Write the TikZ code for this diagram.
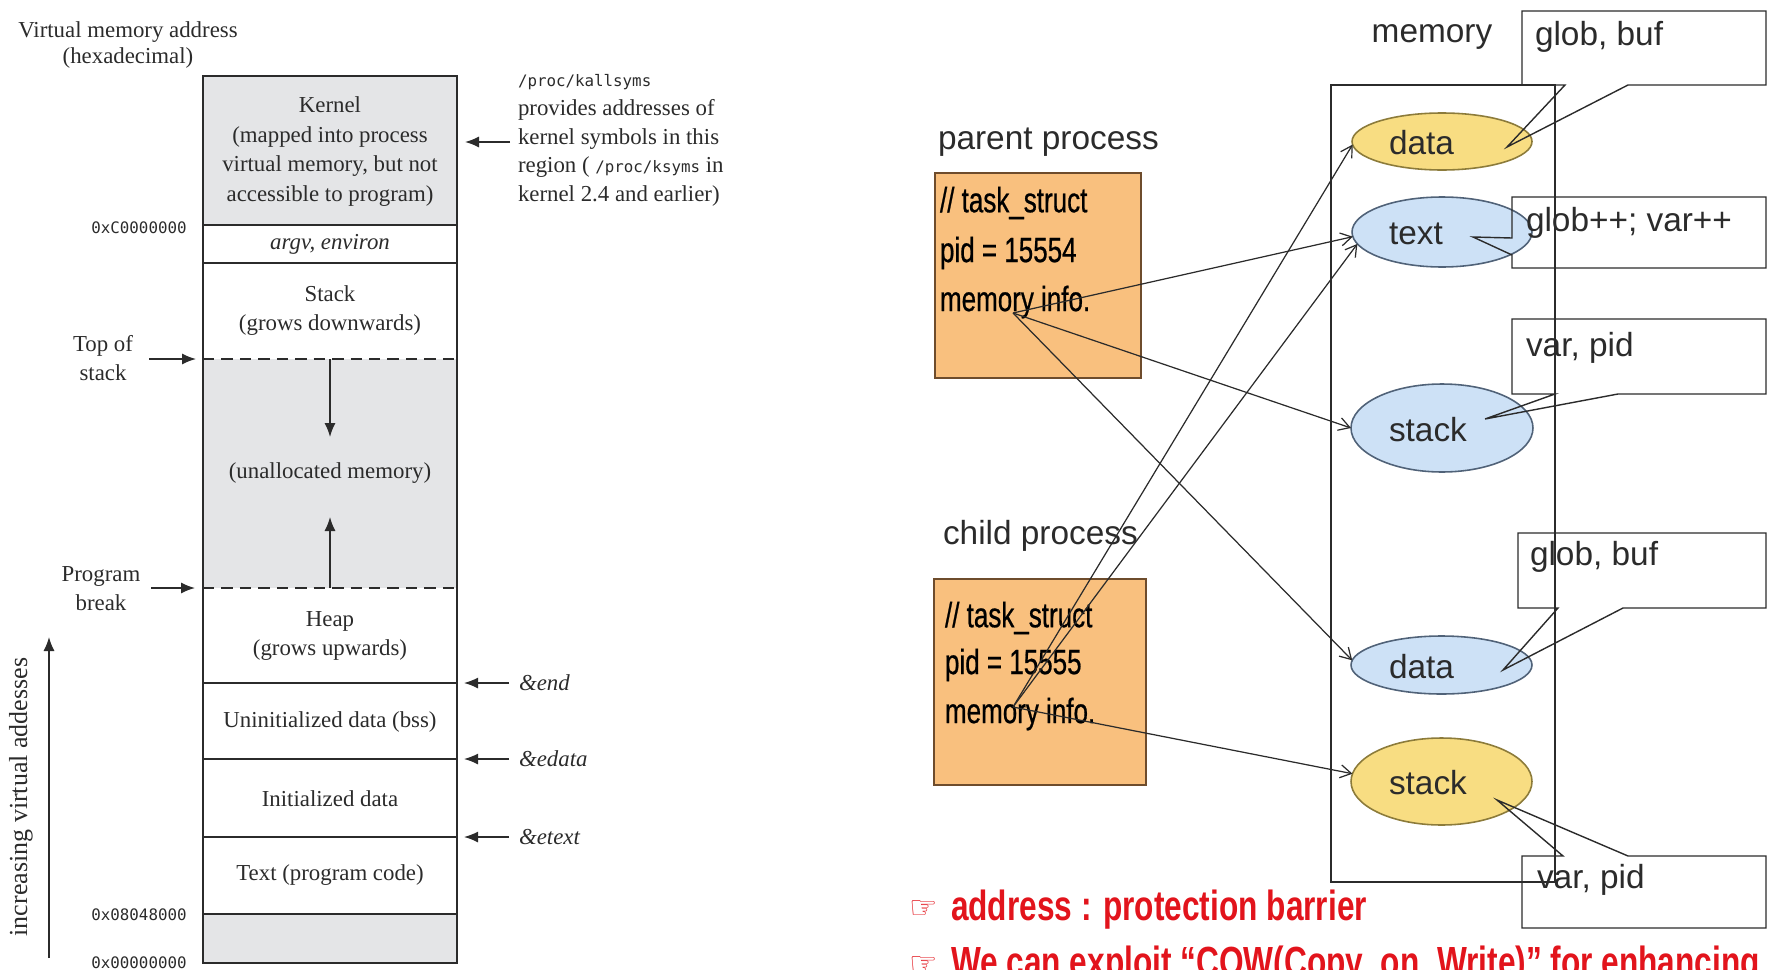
\documentclass[tikz,border=0pt]{standalone}
\usepackage{fontspec}
\setmainfont{Liberation Serif}
\newfontfamily\labelsans{Liberation Sans}
\newfontfamily\tasksans[FakeStretch=0.74,FakeBold=0.6]{Liberation Sans}
\newfontfamily\alertsans[FakeStretch=0.75]{Liberation Sans}
\newfontfamily\symbolfont{DejaVu Sans}
\newfontfamily\codemono{DejaVu Sans Mono}
\usetikzlibrary{arrows.meta,shapes.geometric,calc}

\definecolor{ink}{HTML}{2B2B2B}
\definecolor{regiongray}{HTML}{E4E5E7}
\definecolor{taskfill}{HTML}{F9C07E}
\definecolor{taskline}{HTML}{6E4C2C}
\definecolor{yellowfill}{HTML}{F8DD82}
\definecolor{yellowline}{HTML}{8C7B3A}
\definecolor{bluefill}{HTML}{CDE1F6}
\definecolor{blueline}{HTML}{506278}
\definecolor{alertred}{HTML}{E2141C}

\begin{document}
\begin{tikzpicture}[x=0.02cm,y=-0.02cm,
  every node/.style={inner sep=0pt, outer sep=0pt},
  serif/.style={font=\fontsize{13}{16.9}\selectfont, text=ink, align=center},
  hexlabel/.style={font=\codemono\fontsize{9}{11}\selectfont, text=ink},
  segline/.style={draw=ink, line width=0.8pt},
  dashsep/.style={draw=ink, line width=0.8pt, dash pattern=on 6.5pt off 4pt},
  leftptr/.style={draw=ink, line width=0.8pt, -{Latex[length=2.8mm,width=2.2mm]}},
  memlabel/.style={font=\labelsans\fontsize{19}{22}\selectfont, text=ink},
  procbox/.style={draw=taskline, fill=taskfill, line width=1pt},
  segyellow/.style={ellipse, draw=yellowline, fill=yellowfill, line width=0.9pt},
  segblue/.style={ellipse, draw=blueline, fill=bluefill, line width=0.9pt},
  link/.style={draw=ink, line width=0.7pt, -{Straight Barb[length=2.2mm,width=2.6mm]}},
  callout/.style={draw=ink, line width=0.8pt},
  tasktext/.style={font=\tasksans\fontsize{20}{24}\selectfont, text=black, anchor=west},
  alert/.style={font=\alertsans\bfseries\fontsize{24}{28}\selectfont, text=alertred, anchor=base west},
  hand/.style={font=\symbolfont\fontsize{18}{18}\selectfont, text=alertred, anchor=base west}
]
\useasboundingbox (0,0) rectangle (1768,970);
\clip (0,0) rectangle (1768,970);

% ---------- process virtual memory layout ----------
\fill[regiongray] (203,76) rectangle (457,225);
\fill[regiongray] (203,359) rectangle (457,588);
\fill[regiongray] (203,914) rectangle (457,963);
\draw[segline] (203,76) rectangle (457,963);
\foreach \yy in {225,263,683,759,837,914}
  \draw[segline] (203,\yy) -- (457,\yy);
\draw[dashsep] (203,359) -- (457,359);
\draw[dashsep] (203,588) -- (457,588);

\node[serif] (kerneltxt) at (330,151.5) {Kernel\\(mapped into process\\virtual memory, but not\\accessible to program)};
\node[serif] (argvtxt) at (330,244) {\itshape argv, environ};
\node[serif] (stacktxt) at (330,310.5) {Stack\\(grows downwards)};
\node[serif] (unalloc) at (330,473) {(unallocated memory)};
\node[serif] (heaptxt) at (330,636) {Heap\\(grows upwards)};
\node[serif] (bsstxt) at (330,722) {Uninitialized data (bss)};
\node[serif] (idatatxt) at (330,799) {Initialized data};
\node[serif] (codetxt) at (330,875) {Text (program code)};

\coordinate (stacktop) at (330,359);
\coordinate (stackgrow) at (330,437);
\coordinate (heaptop) at (330,588);
\coordinate (heapgrow) at (330,517);
\draw[leftptr] (stacktop) -- (stackgrow);
\draw[leftptr] (heaptop) -- (heapgrow);

% left-hand labels
\node[serif, font=\fontsize{13}{14.3}\selectfont] (vmaddr) at (128,45) {Virtual memory address\\(hexadecimal)};
\node[hexlabel] (hexC) at (139,228) {0xC0000000};
\node[hexlabel] (hex08) at (139,915) {0x08048000};
\node[hexlabel] (hex00) at (139,963) {0x00000000};
\node[serif, font=\fontsize{13}{16.5}\selectfont] (topstack) at (103,358) {Top of\\stack};
\node[serif, font=\fontsize{13}{16.5}\selectfont] (progbreak) at (101,589) {Program\\break};
\coordinate (tosfrom) at (149,359);
\coordinate (tosto) at (196,359);
\coordinate (brkfrom) at (151,588);
\coordinate (brkto) at (195,588);
\draw[leftptr] (tosfrom) -- (tosto);
\draw[leftptr] (brkfrom) -- (brkto);

\node[serif, rotate=90, font=\fontsize{14.8}{16}\selectfont] (incr) at (21,797) {increasing virtual addesses};
\coordinate (incrfrom) at (49,958);
\coordinate (incrto) at (49,637);
\draw[leftptr] (incrfrom) -- (incrto);

% right-hand notes
\node[serif, anchor=west, align=left, font=\fontsize{13}{16.3}\selectfont] (kallsyms) at (518,140.5)
  {{\codemono\fontsize{9}{11}\selectfont /proc/kallsyms}\\provides addresses of\\kernel symbols in this\\region ( {\codemono\fontsize{9}{11}\selectfont /proc/ksyms} in\\kernel 2.4 and earlier)};
\coordinate (kernfrom) at (510,142);
\coordinate (kernto) at (465,142);
\draw[leftptr] (kernfrom) -- (kernto);

\node[serif, anchor=west] (endlbl) at (519,683) {\itshape\&end};
\node[serif, anchor=west] (edatalbl) at (519,759) {\itshape\&edata};
\node[serif, anchor=west] (etextlbl) at (519,837) {\itshape\&etext};
\foreach \yy/\nm in {683/endp,759/edatap,837/etextp}{
  \coordinate (\nm from) at (509,\yy);
  \coordinate (\nm to) at (464,\yy);
  \draw[leftptr] (\nm from) -- (\nm to);
}

% ---------- fork: parent and child share memory ----------
\node[memlabel] (memlbl) at (1432,37) {memory};
\draw[segline, line width=0.7pt] (1331,85) rectangle (1555,882);

\node[segyellow, minimum width=3.6cm, minimum height=1.14cm] (pdata) at (1442,141.5) {};
\node[segblue, minimum width=3.6cm, minimum height=1.4cm] (ptext) at (1442,232) {};
\node[segblue, minimum width=3.64cm, minimum height=1.76cm] (pstack) at (1442,428) {};
\node[segblue, minimum width=3.62cm, minimum height=1.16cm] (cdata) at (1441.5,665) {};
\node[segyellow, minimum width=3.62cm, minimum height=1.74cm] (cstack) at (1441.5,781.5) {};
\node[memlabel, anchor=west] (pdatalbl) at (1389,143) {data};
\node[memlabel, anchor=west] (ptextlbl) at (1389,234) {text};
\node[memlabel, anchor=west] (pstacklbl) at (1389,430) {stack};
\node[memlabel, anchor=west] (cdatalbl) at (1389,667) {data};
\node[memlabel, anchor=west] (cstacklbl) at (1389,783) {stack};

% callouts naming the variables held in each region
\draw[callout] (1766,11) -- (1522,11) -- (1522,85) -- (1565,85) -- (1507,147) -- (1628,85) -- (1766,85) -- cycle;
\draw[callout] (1766,197) -- (1512,197) -- (1512,238) -- (1473,237) -- (1512,255) -- (1512,268) -- (1766,268) -- cycle;
\draw[callout] (1766,319) -- (1512,319) -- (1512,394) -- (1555,394) -- (1485,419) -- (1618,394) -- (1766,394) -- cycle;
\draw[callout] (1766,533) -- (1518,533) -- (1518,608) -- (1558,608) -- (1503,670) -- (1623,608) -- (1766,608) -- cycle;
\draw[callout] (1766,928) -- (1522,928) -- (1522,856) -- (1563,856) -- (1497,800) -- (1628,856) -- (1766,856) -- cycle;
\node[memlabel, anchor=west] (globA) at (1535,37) {glob, buf};
\node[memlabel, anchor=west] (incs) at (1526,223) {glob++; var++};
\node[memlabel, anchor=west] (varA) at (1526,348) {var, pid};
\node[memlabel, anchor=west] (globB) at (1530,557) {glob, buf};
\node[memlabel, anchor=west] (varB) at (1537,880) {var, pid};

% task_struct boxes
\node[memlabel, anchor=west] (parentlbl) at (938,142) {parent process};
\node[procbox, minimum width=4.12cm, minimum height=4.1cm] (pbox) at (1038,275.5) {};
\node[tasktext] (ptask) at (940,203) {// task\_struct};
\node[tasktext] (ppid) at (940,253) {pid = 15554};
\node[tasktext] (pmem) at (940,302) {memory info.};

\node[memlabel, anchor=west] (childlbl) at (943,536) {child process};
\node[procbox, minimum width=4.24cm, minimum height=4.12cm] (cbox) at (1040,682) {};
\node[tasktext] (ctask) at (945,618) {// task\_struct};
\node[tasktext] (cpid) at (945,665) {pid = 15555};
\node[tasktext] (cmem) at (945,714) {memory info.};

% memory-info pointers
\coordinate (pfrom) at (1013,313);
\coordinate (cfrom) at (1013,707);
\draw[link] (pfrom) -- (ptext.183);
\draw[link] (pfrom) -- (pstack.west);
\draw[link] (pfrom) -- (cdata.177);
\draw[link] (cfrom) -- (pdata.182);
\draw[link] (cfrom) -- (ptext.188);
\draw[link] (cfrom) -- (cstack.175);

% notes
\node[hand] (hand1) at (909,918) {☞};
\node[alert] (barrier) at (951,920) {address : protection barrier};
\node[hand] (hand2) at (909,974) {☞};
\node[alert] (cowtxt) at (951,976) {We can exploit “COW(Copy\_on\_Write)” for enhancing};
\end{tikzpicture}
\end{document}
